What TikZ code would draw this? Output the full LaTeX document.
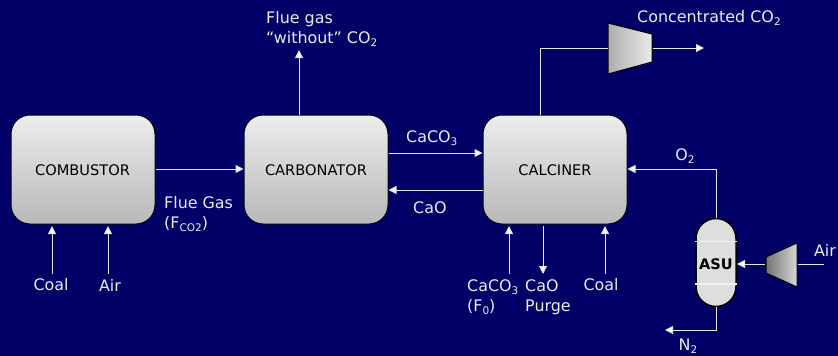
\documentclass[tikz,border=0pt]{standalone}
\usepackage{fontspec}
\setmainfont{DejaVu Sans}
\usetikzlibrary{arrows.meta,shapes.misc,calc}
\definecolor{navy}{HTML}{000066}
\definecolor{linecol}{HTML}{E4E4F4}
\newcommand{\subtxt}[1]{\raisebox{-3.5pt}{\fontsize{10.5}{12}\selectfont #1}}
\begin{document}
\begin{tikzpicture}[x=1pt,y=-1pt,
  vessel/.style={rounded corners=19pt,draw=black!80!navy,line width=1pt,top color=white!93!black,bottom color=white!72!black,minimum width=144pt,minimum height=109pt,inner sep=0pt,font=\fontsize{14.6}{16}\selectfont,text=black},
  vlab/.style={inner sep=0pt,font=\fontsize{14.6}{16}\selectfont,text=black},
  flow/.style={draw=linecol,line width=1pt,-{Triangle[length=8pt,width=8pt,fill=white]}},
  plain/.style={draw=linecol,line width=1pt},
  lab/.style={text=white!92!navy,inner sep=0pt,font=\fontsize{15.9}{20}\selectfont,align=left},
  comp/.style={draw=black,line width=1pt}]
\fill[navy] (0,0) rectangle (838,356);
\useasboundingbox (0,0) rectangle (838,356);
\node[vessel] (comb) at (83,169.5) {};
\node[vessel] (carb) at (316,169.5) {};
\node[vessel] (calc) at (555,169.5) {};
\node[vlab] (tcomb) at (82.5,170.5) {COMBUSTOR};
\node[vlab] (tcarb) at (316,170.5) {CARBONATOR};
\node[vlab] (tcalc) at (555,170.5) {CALCINER};
% compressors
\coordinate (c1a) at (608,23); \coordinate (c1b) at (652,34); \coordinate (c1c) at (652,62); \coordinate (c1d) at (608,74);
\shade[left color=white!68!black,right color=white!92!black] (c1a)--(c1b)--(c1c)--(c1d)--cycle;
\draw[comp] (c1a)--(c1b)--(c1c)--(c1d)--cycle;
\coordinate (c2a) at (766,257); \coordinate (c2b) at (797,243); \coordinate (c2c) at (797,287); \coordinate (c2d) at (766,273);
\shade[left color=white!45!black,right color=white!85!black] (c2a)--(c2b)--(c2c)--(c2d)--cycle;
\draw[comp] (c2a)--(c2b)--(c2c)--(c2d)--cycle;
\coordinate (c1in) at (608,48); \coordinate (c1out) at (653,48);
\coordinate (c2in) at (798,264); \coordinate (c2out) at (765,264);
% ASU
\node[rounded rectangle,rounded rectangle arc length=180,draw=black,line width=1.5pt,fill=white!87!black,minimum width=88pt,minimum height=40pt,inner sep=0pt,rotate=90] (asu) at (716,262.5) {};
\draw[white!95!black,line width=1.5pt] (695,241.5)--(737,241.5) (695,284)--(737,284);
\node[font=\fontsize{14.6}{16}\selectfont\bfseries,text=black,inner sep=0pt] (asulab) at (716,264.5) {ASU};
% free ends
\coordinate (coal1) at (52,274); \coordinate (coal1t) at (52,226);
\coordinate (air1) at (108,274); \coordinate (air1t) at (108,226);
\coordinate (fgout) at (299,50);
\coordinate (ca) at (509,274); \coordinate (cat) at (509,226);
\coordinate (pu) at (543,274); \coordinate (put) at (543,226);
\coordinate (co) at (605,274); \coordinate (cot) at (605,226);
\coordinate (co2) at (704,48);
\coordinate (air2) at (824,264);
\coordinate (n2) at (665,330);
% connectors
\draw[flow] (coal1)--(coal1t);
\draw[flow] (air1)--(air1t);
\draw[flow] (comb.east |- 0,169)--(carb.west |- 0,169);
\draw[flow] (carb.north -| fgout)--(fgout);
\draw[flow] (carb.east |- 0,153)--(calc.west |- 0,153);
\draw[flow] (calc.west |- 0,190)--(carb.east |- 0,190);
\draw[flow] (ca)--(cat);
\draw[flow] (put)--(pu);
\draw[flow] (co)--(cot);
\draw[plain] (calc.north -| 540,0) |- (c1in);
\draw[flow] (c1out)--(co2);
\draw[flow] (716,218) |- (calc.east |- 0,169);
\draw[plain] (air2)--(c2in);
\draw[flow] (c2out)--(737,264);
\draw[flow] (716,307) |- (n2);
% labels
\node[lab,anchor=west] (l1) at (266,29) {Flue gas\\“without” CO\subtxt{2}};
\node[lab,anchor=west] (l2) at (637,18) {Concentrated CO\subtxt{2}};
\node[lab,anchor=west] (l3) at (406,138) {CaCO\subtxt{3}};
\node[lab,anchor=west] (l4) at (413,208) {CaO};
\node[lab,anchor=west] (l5) at (164,214) {Flue Gas\\(F\subtxt{CO2})};
\node[lab] (l6) at (51,285) {Coal};
\node[lab] (l7) at (110,285) {Air};
\node[lab,anchor=west] (l8) at (467,297) {CaCO\subtxt{3}\\(F\subtxt{0})};
\node[lab,anchor=west] (l9) at (525,297) {CaO\\Purge};
\node[lab] (l10) at (601,285) {Coal};
\node[lab] (l11) at (825,250) {Air};
\node[lab] (l12) at (685,156) {O\subtxt{2}};
\node[lab] (l13) at (688,346) {N\subtxt{2}};
\end{tikzpicture}
\end{document}
